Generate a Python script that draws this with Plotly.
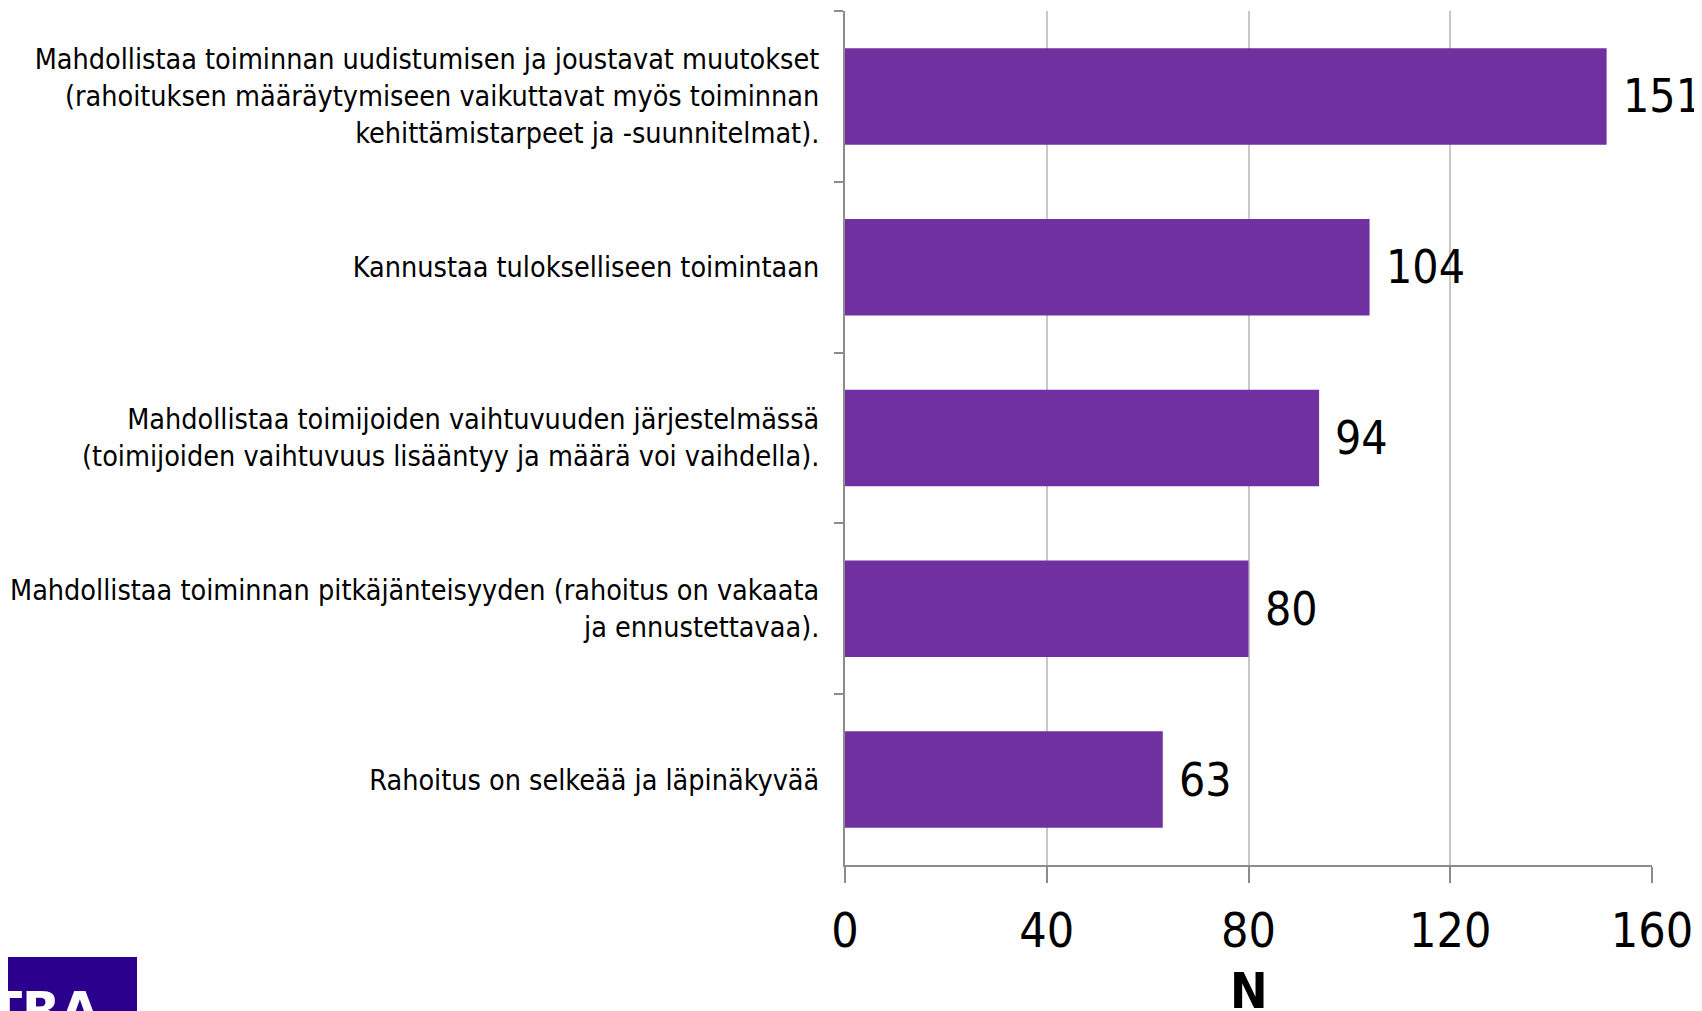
import plotly.graph_objects as go

# answer categories, top to bottom as in the chart
categories = [
    "Mahdollistaa toiminnan uudistumisen ja joustavat muutokset<br>(rahoituksen määräytymiseen vaikuttavat myös toiminnan<br>kehittämistarpeet ja -suunnitelmat).",
    "Kannustaa tulokselliseen toimintaan",
    "Mahdollistaa toimijoiden vaihtuvuuden järjestelmässä<br>(toimijoiden vaihtuvuus lisääntyy ja määrä voi vaihdella).",
    "Mahdollistaa toiminnan pitkäjänteisyyden (rahoitus on vakaata<br>ja ennustettavaa).",
    "Rahoitus on selkeää ja läpinäkyvää",
]
counts = [151, 104, 94, 80, 63]
x_ticks = [0, 40, 80, 120, 160]
x_title = "N"

BAR = "#7030A0"
AXIS = "#8c8c8c"
GRID = "#c8c8c8"
FONT = "DejaVu Sans Condensed, DejaVu Sans"

fig = go.Figure()
fig.add_trace(go.Bar(
    y=categories,
    x=counts,
    orientation="h",
    marker=dict(color=BAR, line=dict(width=0)),
    width=0.565,
    hoverinfo="x+y",
))

# value labels to the right of each bar
for cat, val in zip(categories, counts):
    fig.add_annotation(
        x=val, y=cat, xref="x", yref="y",
        text=str(val), showarrow=False,
        xanchor="left", yanchor="middle", xshift=14,
        font=dict(family=FONT, size=46, color="black"),
    )

# axis title, placed by hand so it can sit low like the original
fig.add_annotation(
    x=0.5, y=-126 / 854, xref="paper", yref="paper",
    text=f"<b>{x_title}</b>", showarrow=False,
    xanchor="center", yanchor="middle",
    font=dict(family=FONT, size=50, color="black"),
)

# logo block in the lower left corner
fig.add_shape(type="rect", xref="paper", yref="paper",
              x0=-1.05, x1=(137 - 845) / 807,
              y0=-146 / 854, y1=-92 / 854,
              fillcolor="#2a008c", line=dict(width=0), layer="above")
fig.add_annotation(xref="paper", yref="paper",
                   x=(-14 - 845) / 807, y=-114 / 854,
                   xanchor="left", yanchor="top", showarrow=False,
                   text="<b>TRA</b>",
                   font=dict(family="DejaVu Sans", size=50, color="white"))

fig.update_layout(
    width=1694, height=1003,
    margin=dict(l=837, r=50, t=3, b=146),
    plot_bgcolor="white", paper_bgcolor="white",
    showlegend=False,
    bargap=0.435,
)

fig.update_xaxes(
    range=[0, 160],
    tickvals=x_ticks,
    ticks="outside", ticklen=16, tickwidth=2, tickcolor=AXIS,
    showline=True, linecolor=AXIS, linewidth=2,
    showgrid=True, gridcolor=GRID, gridwidth=1.5,
    zeroline=False,
    ticklabelstandoff=6,
    tickfont=dict(family=FONT, size=48, color="black"),
)

fig.update_yaxes(
    autorange="reversed",
    ticks="outside", tickson="boundaries", ticklen=9, tickwidth=2, tickcolor=AXIS,
    showline=True, linecolor=AXIS, linewidth=2,
    showgrid=False,
    ticklabelstandoff=18,
    tickfont=dict(family=FONT, size=28.5, color="black"),
)

fig.write_html("out.html")
